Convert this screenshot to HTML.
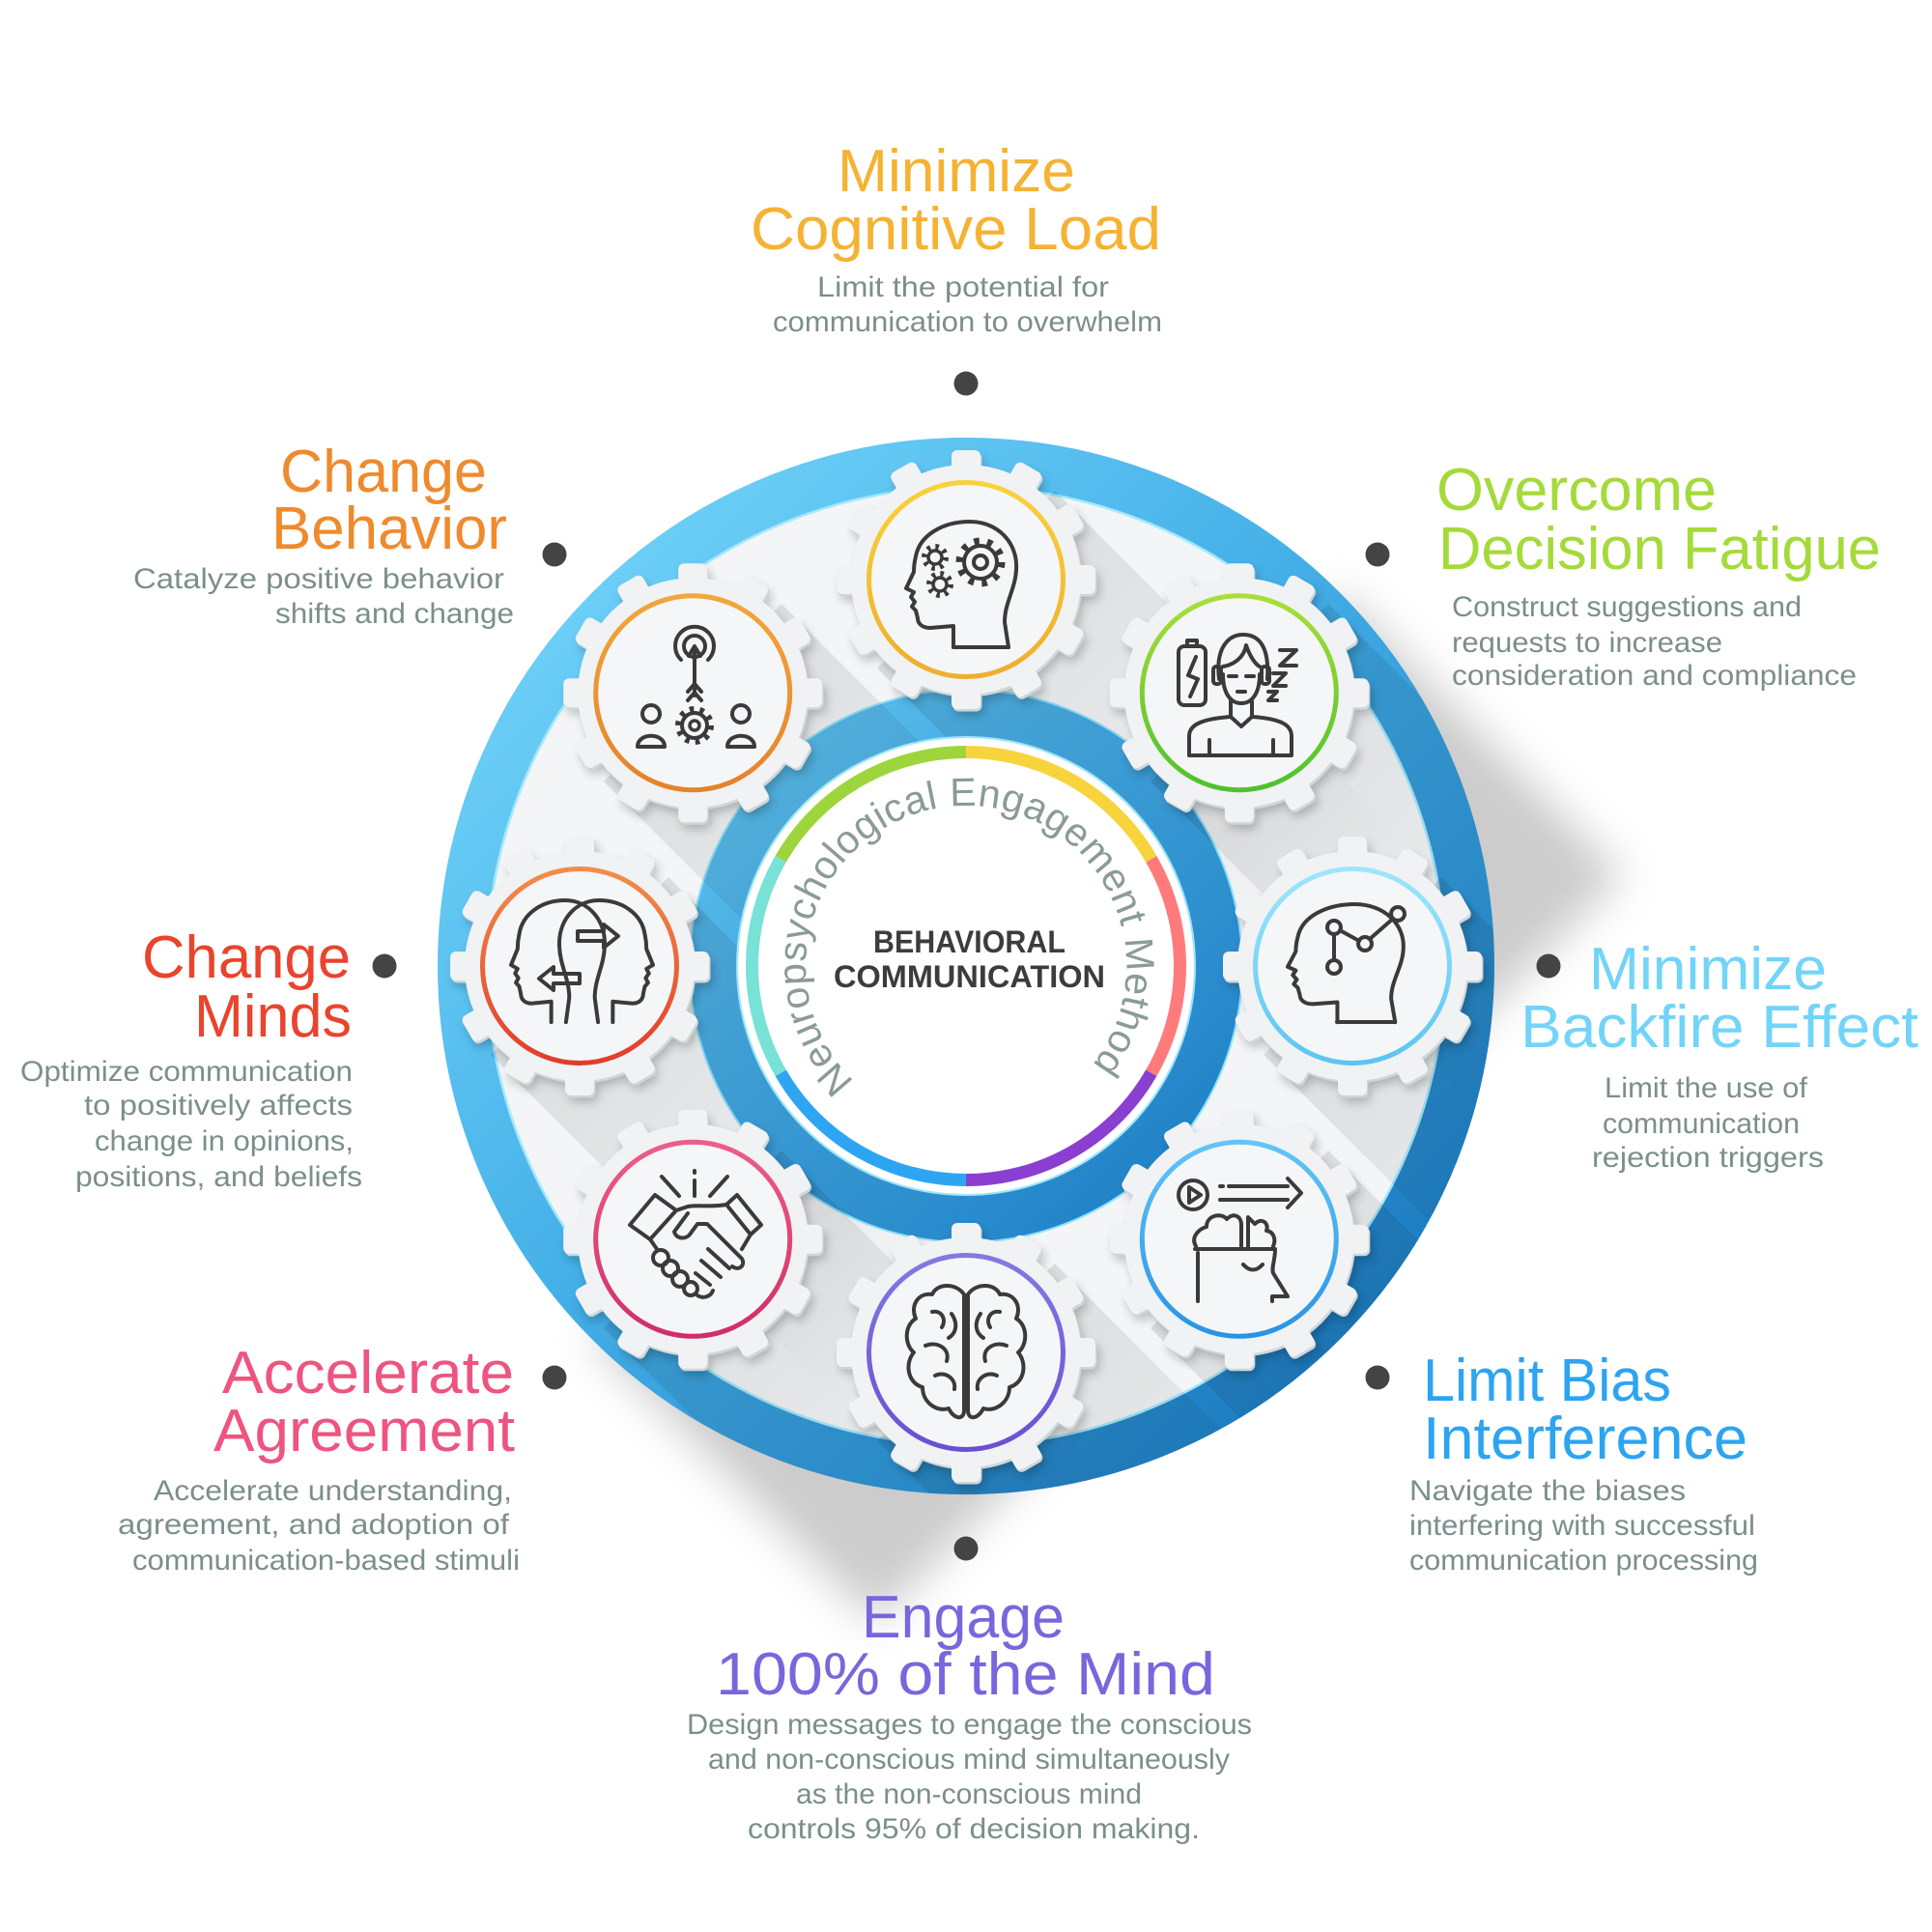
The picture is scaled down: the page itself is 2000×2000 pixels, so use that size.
<!DOCTYPE html>
<html><head><meta charset="utf-8"><style>html,body{margin:0;padding:0;background:#fff}svg{display:block}</style></head>
<body>
<svg width="2000" height="2000" viewBox="0 0 2000 2000" xmlns="http://www.w3.org/2000/svg" xmlns:xlink="http://www.w3.org/1999/xlink" font-family="'Liberation Sans', Arial, sans-serif">
<defs>
  <filter id="b5" x="-30%" y="-30%" width="160%" height="160%"><feGaussianBlur stdDeviation="5"/></filter>
  <filter id="b20" x="-30%" y="-30%" width="160%" height="160%"><feGaussianBlur stdDeviation="22"/></filter>
  <filter id="b3" x="-10%" y="-10%" width="120%" height="120%"><feGaussianBlur stdDeviation="3"/></filter>
  <linearGradient id="outerG" gradientUnits="userSpaceOnUse" x1="500" y1="500" x2="1500" y2="1500">
    <stop offset="0" stop-color="#78d8fb"/><stop offset="0.45" stop-color="#45b0e8"/><stop offset="1" stop-color="#1470b8"/>
  </linearGradient>
  <linearGradient id="innerG" gradientUnits="userSpaceOnUse" x1="760" y1="740" x2="1240" y2="1260">
    <stop offset="0" stop-color="#5fc2ef"/><stop offset="0.5" stop-color="#3a9fdc"/><stop offset="1" stop-color="#1c7cc2"/>
  </linearGradient>
  <linearGradient id="ringSh" gradientUnits="userSpaceOnUse" x1="1387" y1="1387" x2="1640" y2="1640">
    <stop offset="0" stop-color="#000" stop-opacity="0.2"/><stop offset="1" stop-color="#000" stop-opacity="0"/>
  </linearGradient>
  <linearGradient id="gearSh" x1="0" y1="0" x2="1" y2="1">
    <stop offset="0.17" stop-color="#000" stop-opacity="0.10"/><stop offset="0.85" stop-color="#000" stop-opacity="0"/>
  </linearGradient>
  <linearGradient id="c0" x1="0" y1="0" x2="0" y2="1"><stop offset="0" stop-color="#f9d23b"/><stop offset="1" stop-color="#eeae2e"/></linearGradient>
  <linearGradient id="c1" x1="0" y1="0" x2="0" y2="1"><stop offset="0" stop-color="#a9de3a"/><stop offset="1" stop-color="#4fc12d"/></linearGradient>
  <linearGradient id="c2" x1="0" y1="0" x2="0" y2="1"><stop offset="0" stop-color="#9ee6fc"/><stop offset="1" stop-color="#5cc5f2"/></linearGradient>
  <linearGradient id="c3" x1="0" y1="0" x2="0" y2="1"><stop offset="0" stop-color="#62c5f7"/><stop offset="1" stop-color="#2894e5"/></linearGradient>
  <linearGradient id="c4" x1="0" y1="0" x2="0" y2="1"><stop offset="0" stop-color="#827ae2"/><stop offset="1" stop-color="#6a4fd2"/></linearGradient>
  <linearGradient id="c5" x1="0" y1="0" x2="0" y2="1"><stop offset="0" stop-color="#ee5c8a"/><stop offset="1" stop-color="#cf2f66"/></linearGradient>
  <linearGradient id="c6" x1="0" y1="0" x2="0" y2="1"><stop offset="0" stop-color="#f28d4b"/><stop offset="1" stop-color="#e23c2c"/></linearGradient>
  <linearGradient id="c7" x1="0" y1="0" x2="0" y2="1"><stop offset="0" stop-color="#f3a63c"/><stop offset="1" stop-color="#e5822a"/></linearGradient>
  <clipPath id="ringOnly"><path clip-rule="evenodd" d="M1000 453 A547 547 0 1 0 1000 1547 A547 547 0 1 0 1000 453 Z M1000 763 A237 237 0 1 0 1000 1237 A237 237 0 1 0 1000 763 Z"/></clipPath>
  <g id="gearShape">
    <circle r="119"/>
    <rect x="-15" y="-134" width="30" height="36" rx="6"/>
    <rect x="-15" y="-134" width="30" height="36" rx="6" transform="rotate(30)"/>
    <rect x="-15" y="-134" width="30" height="36" rx="6" transform="rotate(60)"/>
    <rect x="-15" y="-134" width="30" height="36" rx="6" transform="rotate(90)"/>
    <rect x="-15" y="-134" width="30" height="36" rx="6" transform="rotate(120)"/>
    <rect x="-15" y="-134" width="30" height="36" rx="6" transform="rotate(150)"/>
    <rect x="-15" y="-134" width="30" height="36" rx="6" transform="rotate(180)"/>
    <rect x="-15" y="-134" width="30" height="36" rx="6" transform="rotate(210)"/>
    <rect x="-15" y="-134" width="30" height="36" rx="6" transform="rotate(240)"/>
    <rect x="-15" y="-134" width="30" height="36" rx="6" transform="rotate(270)"/>
    <rect x="-15" y="-134" width="30" height="36" rx="6" transform="rotate(300)"/>
    <rect x="-15" y="-134" width="30" height="36" rx="6" transform="rotate(330)"/>
  </g>
  <g id="gearSet">
    <use xlink:href="#gearShape" fill="#000" opacity="0.22" transform="translate(4,7)" filter="url(#b5)"/>
    <use xlink:href="#gearShape" fill="#cfd6da" transform="translate(1.5,2.5)"/>
    <use xlink:href="#gearShape" fill="#f0f2f3"/>
    <circle r="99" fill="#f5f6f7"/>
  </g>
  <path id="head" vector-effect="non-scaling-stroke" d="M49,130 L49,108 L25,110 C15,110 12,104 12,100 L10,92 L6,88 L9,83 L5,78 L8,73 L0,69 L8,52 C8,45 9,40 10,36 C14,14 38,0 66,0 C95,0 116,22 114,50 C113,70 102,84 102,104 L106,130"/>
  <path id="arcText" d="M 884.7 1119.4 A 166 166 0 1 1 1129.0 1104.5" fill="none"/>
</defs>

<rect width="2000" height="2000" fill="#fff"/>

<!-- outer ring long shadow -->
<polygon points="1387,613 1680,906 906,1680 613,1387" fill="url(#ringSh)" filter="url(#b20)"/>

<!-- annulus + outer ring -->
<circle cx="1000" cy="1000" r="497" fill="#f3f5f6"/>
<circle cx="1000" cy="1000" r="521" fill="none" stroke="url(#outerG)" stroke-width="52"/>
<circle cx="1000" cy="1000" r="496" fill="none" stroke="#a3e8fc" stroke-width="2.5"/>

<!-- inner ring -->
<circle cx="1000" cy="1000" r="261" fill="none" stroke="url(#innerG)" stroke-width="50"/>
<circle cx="1000" cy="1000" r="286" fill="none" stroke="#8fe2fb" stroke-width="2"/>

<!-- gear long shadows -->
<g clip-path="url(#ringOnly)" fill="url(#gearSh)">
  <polygon points="1092,508 1446,862 1262,1046 908,692"/>
  <polygon points="1375,625 1729,979 1545,1163 1191,809"/>
  <polygon points="1492,908 1846,1262 1662,1446 1308,1092"/>
  <polygon points="1375,1191 1729,1545 1545,1729 1191,1375"/>
  <polygon points="1092,1308 1446,1662 1262,1846 908,1492"/>
  <polygon points="809,1191 1163,1545 979,1729 625,1375"/>
  <polygon points="692,908 1046,1262 862,1446 508,1092"/>
  <polygon points="809,625 1163,979 979,1163 625,809"/>
</g>

<!-- center disc -->
<circle cx="1000" cy="1000" r="236" fill="#fff"/>
<circle cx="1000" cy="1000" r="237" fill="none" stroke="#9fe6fb" stroke-width="2"/>
<g fill="none" stroke-width="13">
  <path d="M1000 778.5 A221.5 221.5 0 0 1 1191.8 889.25" stroke="#f8d43c"/>
  <path d="M1191.8 889.25 A221.5 221.5 0 0 1 1191.8 1110.75" stroke="#ff7b7b"/>
  <path d="M1191.8 1110.75 A221.5 221.5 0 0 1 1000 1221.5" stroke="#8a3fd0"/>
  <path d="M1000 1221.5 A221.5 221.5 0 0 1 808.2 1110.75" stroke="#2ea5f2"/>
  <path d="M808.2 1110.75 A221.5 221.5 0 0 1 808.2 889.25" stroke="#78e2d6"/>
  <path d="M808.2 889.25 A221.5 221.5 0 0 1 1000 778.5" stroke="#9ed53c"/>
</g>
<text font-size="41" fill="#8a9b99"><textPath xlink:href="#arcText" textLength="765" lengthAdjust="spacing">Neuropsychological Engagement Method</textPath></text>
<text x="904" y="986" font-size="32" font-weight="bold" fill="#3c3c3c" textLength="199" lengthAdjust="spacingAndGlyphs">BEHAVIORAL</text>
<text x="863" y="1022" font-size="32" font-weight="bold" fill="#3c3c3c" textLength="281" lengthAdjust="spacingAndGlyphs">COMMUNICATION</text>

<!-- gears -->
<use xlink:href="#gearSet" transform="translate(1000,600)"/>
<use xlink:href="#gearSet" transform="translate(1282.8,717.2)"/>
<use xlink:href="#gearSet" transform="translate(1400,1000)"/>
<use xlink:href="#gearSet" transform="translate(1282.8,1282.8)"/>
<use xlink:href="#gearSet" transform="translate(1000,1400)"/>
<use xlink:href="#gearSet" transform="translate(717.2,1282.8)"/>
<use xlink:href="#gearSet" transform="translate(600,1000)"/>
<use xlink:href="#gearSet" transform="translate(717.2,717.2)"/>
<g fill="none" stroke-width="5">
  <circle cx="1000" cy="600" r="100.5" stroke="url(#c0)"/>
  <circle cx="1282.8" cy="717.2" r="100.5" stroke="url(#c1)"/>
  <circle cx="1400" cy="1000" r="100.5" stroke="url(#c2)"/>
  <circle cx="1282.8" cy="1282.8" r="100.5" stroke="url(#c3)"/>
  <circle cx="1000" cy="1400" r="100.5" stroke="url(#c4)"/>
  <circle cx="717.2" cy="1282.8" r="100.5" stroke="url(#c5)"/>
  <circle cx="600" cy="1000" r="100.5" stroke="url(#c6)"/>
  <circle cx="717.2" cy="717.2" r="100.5" stroke="url(#c7)"/>
</g>

<!-- icons -->
<g fill="none" stroke="#3a3a3a" stroke-width="4" stroke-linecap="round" stroke-linejoin="round">
  <!-- 1 cognitive head -->
  <use xlink:href="#head" transform="translate(938,540)"/>
  <path d="M987 670 L1044 670"/>
  <circle cx="1015" cy="582" r="22" stroke-width="7" stroke-dasharray="5.5 8.32" stroke-linecap="butt"/>
  <circle cx="1015" cy="582" r="17"/>
  <circle cx="1015" cy="582" r="7"/>
  <circle cx="968" cy="577" r="11" stroke-width="6" stroke-dasharray="3.5 5.14" stroke-linecap="butt"/>
  <circle cx="968" cy="577" r="7" stroke-width="3.5"/>
  <circle cx="973" cy="605" r="11" stroke-width="6" stroke-dasharray="3.5 5.14" stroke-linecap="butt"/>
  <circle cx="973" cy="605" r="7" stroke-width="3.5"/>

  <!-- 2 tired person -->
  <rect x="1220" y="669" width="28" height="61" rx="6"/>
  <path d="M1229 669 L1229 663 L1239 663 L1239 669"/>
  <path d="M1238 680 L1230 699 L1240 703 L1232 721"/>
  <path d="M1262 703 C1258 670 1272 657 1287 657 C1305 657 1314 672 1312 703"/>
  <rect x="1256" y="690" width="8" height="18" rx="3"/>
  <rect x="1306" y="690" width="8" height="18" rx="3"/>
  <path d="M1266 698 C1266 718 1274 728 1285 728 C1296 728 1304 718 1304 698"/>
  <path d="M1266 690 C1278 688 1288 680 1290 668 C1294 680 1300 688 1304 690"/>
  <path d="M1272 700 L1280 700 M1290 700 L1298 700 M1281 716 L1289 716"/>
  <path d="M1274 726 L1274 742 M1296 726 L1296 742"/>
  <path d="M1231 782 L1231 762 C1231 750 1245 744 1274 742 L1285 752 L1296 742 C1325 744 1337 750 1337 762 L1337 782 Z"/>
  <path d="M1252 766 L1252 782 M1318 766 L1318 782"/>
  <path d="M1325 673 L1342 673 L1325 689 L1342 689"/>
  <path d="M1318 697 L1331 697 L1318 710 L1331 710"/>
  <path d="M1313 716 L1322 716 L1313 725 L1322 725"/>

  <!-- 3 network head -->
  <use xlink:href="#head" transform="translate(1333,936) scale(1.05,0.94)"/>
  <path d="M1384 1058 L1444 1058"/>
  <path d="M1381 967 L1381 994 M1387 963 L1407 974 M1418 972 L1442 951"/>
  <circle cx="1381" cy="960" r="7"/>
  <circle cx="1413" cy="977" r="7"/>
  <circle cx="1447" cy="946" r="7"/>
  <circle cx="1381" cy="1001" r="7"/>

  <!-- 4 bias head -->
  <circle cx="1235" cy="1237" r="15"/>
  <path d="M1231 1229 L1231 1245 L1243 1237 Z"/>
  <path d="M1263 1228 L1266 1228 M1272 1228 L1333 1228 M1263 1242 L1333 1242 M1333 1220 L1347 1235 L1333 1250"/>
  <path d="M1240 1297 L1240 1347"/>
  <path d="M1237 1293 L1320 1293 C1320 1305 1316 1312 1318 1318 L1333 1342 L1317 1342 L1317 1347"/>
  <path d="M1287 1309 Q1297 1320 1307 1309"/>
  <path d="M1238 1290 C1232 1280 1242 1272 1249 1270 C1249 1258 1264 1255 1270 1262 C1276 1255 1286 1258 1285 1270 L1285 1290"/>
  <path d="M1292 1290 L1292 1260 L1299 1267 C1306 1260 1314 1266 1311 1274 C1319 1275 1321 1284 1318 1290"/>

  <!-- 5 brain -->
  <path d="M998 1340 C990 1328 970 1328 965 1340 C950 1338 942 1352 948 1365 C936 1372 936 1392 946 1400 C936 1412 940 1432 955 1436 C955 1452 970 1462 982 1458 C988 1470 998 1470 998 1460 Z"/>
  <path d="M1002 1340 C1010 1328 1030 1328 1035 1340 C1050 1338 1058 1352 1052 1365 C1064 1372 1064 1392 1054 1400 C1064 1412 1060 1432 1045 1436 C1045 1452 1030 1462 1018 1458 C1012 1470 1002 1470 1002 1460 Z"/>
  <path d="M965 1358 C975 1356 980 1366 975 1374 M958 1393 C970 1388 984 1396 980 1409 M968 1424 C978 1419 990 1427 988 1438 M985 1360 C992 1370 990 1380 982 1385"/>
  <path d="M1035 1358 C1025 1356 1020 1366 1025 1374 M1042 1393 C1030 1388 1016 1396 1020 1409 M1032 1424 C1022 1419 1010 1427 1012 1438 M1015 1360 C1008 1370 1010 1380 1018 1385"/>

  <!-- 6 handshake -->
  <path d="M719 1212 L719 1214 M719 1222 L719 1238 M685 1218 L703 1238 M753 1218 L735 1238"/>
  <path d="M652 1268 L678 1237 L700 1253 L673 1283 Z"/>
  <path d="M788 1268 L763 1237 L752 1247 L777 1278 Z"/>
  <path d="M700 1253 L712 1249 C725 1247 735 1250 752 1247"/>
  <path d="M712 1256 L698 1275 C700 1283 710 1283 714 1278 L722 1267 L732 1267 L768 1303 C772 1310 765 1316 758 1311"/>
  <path d="M673 1283 L680 1293 M777 1278 L768 1293"/>
  <circle cx="684" cy="1302" r="8"/>
  <circle cx="694" cy="1313" r="8"/>
  <circle cx="704" cy="1324" r="8"/>
  <circle cx="715" cy="1334" r="7"/>
  <path d="M733 1293 L755 1313 M726 1305 L746 1322 M720 1318 L735 1330 M722 1341 C728 1345 736 1342 738 1336"/>

  <!-- 7 change minds -->
  <use xlink:href="#head" transform="translate(529,932) scale(0.85,0.97)"/>
  <use xlink:href="#head" transform="translate(676,932) scale(-0.85,0.97)"/>
  <path d="M598 964 L625 964 L625 957 L640 969 L625 981 L625 974 L598 974 Z"/>
  <path d="M600 1008 L573 1008 L573 1001 L558 1013 L573 1025 L573 1018 L600 1018 Z"/>

  <!-- 8 change behavior -->
  <path d="M705 683 A20 20 0 1 1 733 683"/>
  <circle cx="719" cy="669" r="11"/>
  <path d="M719 671 L719 720 M713 679 L719 669 L725 679 M712 716 L719 708 L726 716 M712 725 L719 717 L726 725"/>
  <circle cx="719" cy="751" r="17" stroke-width="6" stroke-dasharray="4.5 6.18" stroke-linecap="butt"/>
  <circle cx="719" cy="751" r="13"/>
  <circle cx="719" cy="751" r="5" stroke-width="3.5"/>
  <circle cx="674" cy="739" r="9"/>
  <path d="M660 773 C660 758 688 758 688 773 Z"/>
  <circle cx="767" cy="739" r="9"/>
  <path d="M753 773 C753 758 781 758 781 773 Z"/>
</g>

<!-- dots -->
<g fill="#444">
  <circle cx="1000" cy="397" r="12.5"/>
  <circle cx="1426" cy="574" r="12.5"/>
  <circle cx="1603" cy="1000" r="12.5"/>
  <circle cx="1426" cy="1426" r="12.5"/>
  <circle cx="1000" cy="1603" r="12.5"/>
  <circle cx="574" cy="1426" r="12.5"/>
  <circle cx="398" cy="1000" r="12.5"/>
  <circle cx="574" cy="574" r="12.5"/>
</g>

<!-- titles & descriptions -->
<g font-size="62">
  <text x="867" y="198" fill="#f5b233" textLength="246" lengthAdjust="spacingAndGlyphs">Minimize</text>
  <text x="777" y="258" fill="#f5b233" textLength="425" lengthAdjust="spacingAndGlyphs">Cognitive Load</text>

  <text x="290" y="509" fill="#ef8a2d" textLength="214" lengthAdjust="spacingAndGlyphs">Change</text>
  <text x="281" y="568" fill="#ef8a2d" textLength="244" lengthAdjust="spacingAndGlyphs">Behavior</text>

  <text x="147" y="1012" fill="#e8442e" textLength="216" lengthAdjust="spacingAndGlyphs">Change</text>
  <text x="201" y="1073" fill="#e8442e" textLength="163" lengthAdjust="spacingAndGlyphs">Minds</text>

  <text x="230" y="1442" fill="#ee5480" textLength="302" lengthAdjust="spacingAndGlyphs">Accelerate</text>
  <text x="221" y="1502" fill="#ee5480" textLength="312" lengthAdjust="spacingAndGlyphs">Agreement</text>

  <text x="892" y="1695" fill="#7767dc" textLength="210" lengthAdjust="spacingAndGlyphs">Engage</text>
  <text x="741" y="1754" fill="#7767dc" textLength="517" lengthAdjust="spacingAndGlyphs">100% of the Mind</text>

  <text x="1473" y="1450" fill="#2ca4f1" textLength="257" lengthAdjust="spacingAndGlyphs">Limit Bias</text>
  <text x="1473" y="1510" fill="#2ca4f1" textLength="336" lengthAdjust="spacingAndGlyphs">Interference</text>

  <text x="1645" y="1024" fill="#72d4f8" textLength="246" lengthAdjust="spacingAndGlyphs">Minimize</text>
  <text x="1574" y="1084" fill="#72d4f8" textLength="412" lengthAdjust="spacingAndGlyphs">Backfire Effect</text>

  <text x="1487" y="528" fill="#a4da39" textLength="290" lengthAdjust="spacingAndGlyphs">Overcome</text>
  <text x="1489" y="589" fill="#a4da39" textLength="458" lengthAdjust="spacingAndGlyphs">Decision Fatigue</text>
</g>

<g font-size="30" fill="#7b8f8c">
  <text x="846" y="307" textLength="302" lengthAdjust="spacingAndGlyphs">Limit the potential for</text>
  <text x="800" y="343" textLength="403" lengthAdjust="spacingAndGlyphs">communication to overwhelm</text>

  <text x="138" y="609" textLength="384" lengthAdjust="spacingAndGlyphs">Catalyze positive behavior</text>
  <text x="285" y="645" textLength="247" lengthAdjust="spacingAndGlyphs">shifts and change</text>

  <text x="21" y="1119" textLength="344" lengthAdjust="spacingAndGlyphs">Optimize communication</text>
  <text x="87" y="1154" textLength="278" lengthAdjust="spacingAndGlyphs">to positively affects</text>
  <text x="98" y="1191" textLength="268" lengthAdjust="spacingAndGlyphs">change in opinions,</text>
  <text x="78" y="1228" textLength="297" lengthAdjust="spacingAndGlyphs">positions, and beliefs</text>

  <text x="159" y="1553" textLength="371" lengthAdjust="spacingAndGlyphs">Accelerate understanding,</text>
  <text x="122" y="1588" textLength="405" lengthAdjust="spacingAndGlyphs">agreement, and adoption of</text>
  <text x="137" y="1625" textLength="401" lengthAdjust="spacingAndGlyphs">communication-based stimuli</text>

  <text x="711" y="1795" textLength="585" lengthAdjust="spacingAndGlyphs">Design messages to engage the conscious</text>
  <text x="733" y="1831" textLength="540" lengthAdjust="spacingAndGlyphs">and non-conscious mind simultaneously</text>
  <text x="824" y="1867" textLength="358" lengthAdjust="spacingAndGlyphs">as the non-conscious mind</text>
  <text x="774" y="1903" textLength="468" lengthAdjust="spacingAndGlyphs">controls 95% of decision making.</text>

  <text x="1459" y="1553" textLength="286" lengthAdjust="spacingAndGlyphs">Navigate the biases</text>
  <text x="1459" y="1589" textLength="358" lengthAdjust="spacingAndGlyphs">interfering with successful</text>
  <text x="1459" y="1625" textLength="361" lengthAdjust="spacingAndGlyphs">communication processing</text>

  <text x="1661" y="1136" textLength="210" lengthAdjust="spacingAndGlyphs">Limit the use of</text>
  <text x="1659" y="1173" textLength="204" lengthAdjust="spacingAndGlyphs">communication</text>
  <text x="1648" y="1208" textLength="240" lengthAdjust="spacingAndGlyphs">rejection triggers</text>

  <text x="1503" y="638" textLength="362" lengthAdjust="spacingAndGlyphs">Construct suggestions and</text>
  <text x="1503" y="675" textLength="280" lengthAdjust="spacingAndGlyphs">requests to increase</text>
  <text x="1503" y="709" textLength="419" lengthAdjust="spacingAndGlyphs">consideration and compliance</text>
</g>
</svg>
</body></html>
